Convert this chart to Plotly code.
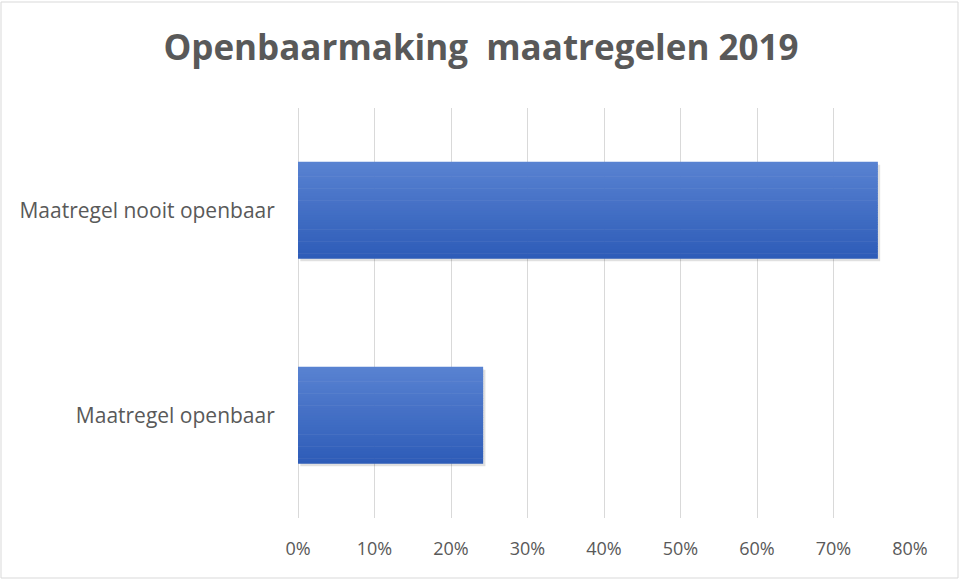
import plotly.graph_objects as go

categories = ["Maatregel openbaar", "Maatregel nooit openbaar"]
values = [24.2, 75.8]
tick_vals = [0, 10, 20, 30, 40, 50, 60, 70, 80]
tick_text = ["0%", "10%", "20%", "30%", "40%", "50%", "60%", "70%", "80%"]
title_text = "Openbaarmaking  maatregelen 2019"

# vertical gradient approximated with thin stacked bands
bar_w = 0.47
n_bands = 40
dark = (46, 92, 184)
light = (88, 130, 209)

fig = go.Figure()
# soft shadow
fig.add_trace(go.Bar(
    x=values, y=categories, orientation="h",
    width=bar_w, offset=-bar_w / 2 - 0.012,
    marker=dict(color="rgba(0,0,0,0.12)", line=dict(width=0)),
    base=0.3, hoverinfo="skip", showlegend=False,
))
for i in range(n_bands):
    t = i / (n_bands - 1)
    c = tuple(round(dark[k] + (light[k] - dark[k]) * t) for k in range(3))
    col = "rgb(%d,%d,%d)" % c
    fig.add_trace(go.Bar(
        x=values, y=categories, orientation="h",
        width=bar_w / n_bands + 0.003,
        offset=-bar_w / 2 + i * bar_w / n_bands,
        marker=dict(color=col, line=dict(width=0)),
        showlegend=False, hoverinfo="x+y",
    ))

L, R, T, B = 298, 50, 108, 62
pw = 960 - L - R
ph = 580 - T - B

fig.update_layout(
    width=960, height=580,
    margin=dict(l=L, r=R, t=T, b=B),
    paper_bgcolor="white", plot_bgcolor="white",
    barmode="overlay",
    font=dict(family="Open Sans, Noto Sans, sans-serif", color="#595959"),
    title=dict(text=title_text, x=481 / 960, xref="container", y=1 - 48 / 580, yref="container",
               xanchor="center", yanchor="middle",
               font=dict(size=35, color="#595959", family="Open Sans, sans-serif", weight="bold")),
    xaxis=dict(range=[0, 80], tickvals=tick_vals, ticktext=tick_text,
               showgrid=True, gridcolor="#D9D9D9", gridwidth=1,
               zeroline=True, zerolinecolor="#D9D9D9", zerolinewidth=1,
               showline=False, ticks="outside", ticklen=14, tickcolor="rgba(0,0,0,0)",
               tickfont=dict(size=18, color="#595959"), fixedrange=True),
    yaxis=dict(showgrid=False, zeroline=False, showline=False,
               ticks="outside", ticklen=18, tickcolor="rgba(0,0,0,0)",
               tickfont=dict(size=21, color="#595959"), range=[-0.5, 1.5]),
    shapes=[dict(type="rect", xref="paper", yref="paper",
                 x0=(1 - L) / pw, x1=(958 - L) / pw,
                 y0=(580 - B - 578) / ph, y1=(580 - B - 2) / ph,
                 line=dict(color="#D9D9D9", width=1), fillcolor="rgba(0,0,0,0)", layer="below")],
)

fig.write_html("out.html", config={"displayModeBar": False},
               post_script="document.body.style.margin='0';document.body.style.padding='0';")
